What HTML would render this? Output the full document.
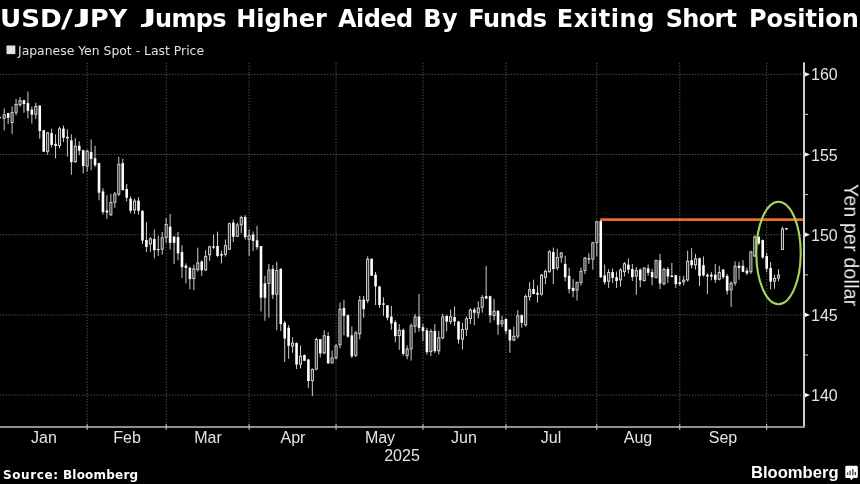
<!DOCTYPE html>
<html><head><meta charset="utf-8"><title>USD/JPY Jumps Higher Aided By Funds Exiting Short Positions</title>
<style>
html,body{margin:0;padding:0;background:#000;}
body{width:860px;height:484px;position:relative;overflow:hidden;color:#fff;font-family:"Liberation Sans",sans-serif;}
svg{position:absolute;left:0;top:0;}
body>div{will-change:transform;}
.title{position:absolute;left:0;top:0;width:860px;height:36px;overflow:hidden;font:bold 24px "DejaVu Sans","Liberation Sans",sans-serif;color:#fff;}
.title span{position:absolute;top:4.5px;line-height:28px;white-space:nowrap;transform-origin:0 4.3px;}
.legend{position:absolute;left:17.6px;top:42.8px;font:12.4px/15px "DejaVu Sans","Liberation Sans",sans-serif;color:#e0e0e0;white-space:nowrap;}
.ax{position:absolute;font:16px/18px "Liberation Sans",sans-serif;color:#e4e4e4;white-space:nowrap;}
.mo{top:428.6px;width:60px;text-align:center;}
.yl{left:810.7px;}
.yr{left:371.5px;top:446.6px;width:60px;text-align:center;}
.ytitle{position:absolute;left:840.9px;top:184px;font:19.3px/19.3px "Liberation Sans",sans-serif;color:#ececec;white-space:nowrap;letter-spacing:0.3px;transform-origin:0 0;transform:rotate(90deg) translate(0,-100%);}
.src{position:absolute;top:468px;font:bold 12px/15px "DejaVu Sans","Liberation Sans",sans-serif;color:#fff;white-space:nowrap;}
.bb{position:absolute;left:751.2px;top:462.6px;font:bold 16.6px/19px "Liberation Sans",sans-serif;color:#fff;white-space:nowrap;letter-spacing:0px;}
</style></head>
<body>
<svg width="860" height="484" viewBox="0 0 860 484">
<line x1="0" x2="803.0" y1="74.30" y2="74.30" stroke="#5e5e5e" stroke-width="1" stroke-dasharray="1.2 1.72"/>
<line x1="0" x2="803.0" y1="154.50" y2="154.50" stroke="#5e5e5e" stroke-width="1" stroke-dasharray="1.2 1.72"/>
<line x1="0" x2="803.0" y1="234.70" y2="234.70" stroke="#5e5e5e" stroke-width="1" stroke-dasharray="1.2 1.72"/>
<line x1="0" x2="803.0" y1="314.90" y2="314.90" stroke="#5e5e5e" stroke-width="1" stroke-dasharray="1.2 1.72"/>
<line x1="0" x2="803.0" y1="395.10" y2="395.10" stroke="#5e5e5e" stroke-width="1" stroke-dasharray="1.2 1.72"/>
<line x1="87.16" x2="87.16" y1="62.9" y2="426.0" stroke="#5e5e5e" stroke-width="1" stroke-dasharray="1.2 1.72"/>
<line x1="166.18" x2="166.18" y1="62.9" y2="426.0" stroke="#5e5e5e" stroke-width="1" stroke-dasharray="1.2 1.72"/>
<line x1="249.14" x2="249.14" y1="62.9" y2="426.0" stroke="#5e5e5e" stroke-width="1" stroke-dasharray="1.2 1.72"/>
<line x1="336.05" x2="336.05" y1="62.9" y2="426.0" stroke="#5e5e5e" stroke-width="1" stroke-dasharray="1.2 1.72"/>
<line x1="422.96" x2="422.96" y1="62.9" y2="426.0" stroke="#5e5e5e" stroke-width="1" stroke-dasharray="1.2 1.72"/>
<line x1="505.93" x2="505.93" y1="62.9" y2="426.0" stroke="#5e5e5e" stroke-width="1" stroke-dasharray="1.2 1.72"/>
<line x1="596.79" x2="596.79" y1="62.9" y2="426.0" stroke="#5e5e5e" stroke-width="1" stroke-dasharray="1.2 1.72"/>
<line x1="679.75" x2="679.75" y1="62.9" y2="426.0" stroke="#5e5e5e" stroke-width="1" stroke-dasharray="1.2 1.72"/>
<line x1="766.67" x2="766.67" y1="62.9" y2="426.0" stroke="#5e5e5e" stroke-width="1" stroke-dasharray="1.2 1.72"/>
<path d="M0 116.4 L1.4 117.6 L0 118.8 Z" fill="#e0e0e0"/>
<line x1="4.20" x2="4.20" y1="108.40" y2="130.40" stroke="#cdcdcd" stroke-width="1"/>
<rect x="3.15" y="114.85" width="2.1" height="3.40" fill="#262626" stroke="#d8d8d8" stroke-width="0.95"/>
<line x1="8.15" x2="8.15" y1="112.80" y2="124.10" stroke="#cdcdcd" stroke-width="1"/>
<rect x="6.85" y="113.20" width="2.6" height="4.60" fill="#fff"/>
<line x1="12.10" x2="12.10" y1="106.50" y2="134.20" stroke="#cdcdcd" stroke-width="1"/>
<rect x="11.05" y="112.65" width="2.1" height="9.80" fill="#262626" stroke="#d8d8d8" stroke-width="0.95"/>
<line x1="16.05" x2="16.05" y1="98.90" y2="115.30" stroke="#cdcdcd" stroke-width="1"/>
<rect x="15.00" y="104.45" width="2.1" height="7.90" fill="#262626" stroke="#d8d8d8" stroke-width="0.95"/>
<line x1="20.00" x2="20.00" y1="97.00" y2="106.50" stroke="#cdcdcd" stroke-width="1"/>
<rect x="18.95" y="100.65" width="2.1" height="4.10" fill="#262626" stroke="#d8d8d8" stroke-width="0.95"/>
<line x1="23.95" x2="23.95" y1="99.80" y2="112.80" stroke="#cdcdcd" stroke-width="1"/>
<rect x="22.65" y="100.20" width="2.6" height="3.80" fill="#fff"/>
<line x1="27.90" x2="27.90" y1="91.50" y2="118.50" stroke="#cdcdcd" stroke-width="1"/>
<rect x="26.60" y="103.10" width="2.6" height="7.80" fill="#fff"/>
<line x1="31.85" x2="31.85" y1="106.50" y2="123.50" stroke="#cdcdcd" stroke-width="1"/>
<rect x="30.55" y="109.60" width="2.6" height="5.10" fill="#fff"/>
<line x1="35.81" x2="35.81" y1="102.70" y2="119.10" stroke="#cdcdcd" stroke-width="1"/>
<rect x="34.76" y="106.35" width="2.1" height="7.90" fill="#262626" stroke="#d8d8d8" stroke-width="0.95"/>
<line x1="39.76" x2="39.76" y1="105.20" y2="138.80" stroke="#cdcdcd" stroke-width="1"/>
<rect x="38.46" y="105.60" width="2.6" height="25.40" fill="#fff"/>
<line x1="43.71" x2="43.71" y1="129.80" y2="151.90" stroke="#cdcdcd" stroke-width="1"/>
<rect x="42.41" y="130.30" width="2.6" height="21.40" fill="#fff"/>
<line x1="47.66" x2="47.66" y1="131.90" y2="154.60" stroke="#cdcdcd" stroke-width="1"/>
<rect x="46.61" y="132.95" width="2.1" height="18.30" fill="#262626" stroke="#d8d8d8" stroke-width="0.95"/>
<line x1="51.61" x2="51.61" y1="128.60" y2="147.60" stroke="#cdcdcd" stroke-width="1"/>
<rect x="50.31" y="133.10" width="2.6" height="11.90" fill="#fff"/>
<line x1="55.56" x2="55.56" y1="134.30" y2="158.40" stroke="#cdcdcd" stroke-width="1"/>
<rect x="54.26" y="143.80" width="2.6" height="2.20" fill="#fff"/>
<line x1="59.51" x2="59.51" y1="126.50" y2="148.20" stroke="#cdcdcd" stroke-width="1"/>
<rect x="58.46" y="128.75" width="2.1" height="16.80" fill="#262626" stroke="#d8d8d8" stroke-width="0.95"/>
<line x1="63.46" x2="63.46" y1="125.50" y2="142.00" stroke="#cdcdcd" stroke-width="1"/>
<rect x="62.16" y="128.60" width="2.6" height="9.20" fill="#fff"/>
<line x1="67.41" x2="67.41" y1="129.30" y2="156.50" stroke="#cdcdcd" stroke-width="1"/>
<rect x="66.11" y="136.80" width="2.6" height="1.60" fill="#fff"/>
<line x1="71.36" x2="71.36" y1="134.40" y2="174.80" stroke="#cdcdcd" stroke-width="1"/>
<rect x="70.06" y="140.30" width="2.6" height="21.90" fill="#fff"/>
<line x1="75.31" x2="75.31" y1="138.20" y2="162.80" stroke="#cdcdcd" stroke-width="1"/>
<rect x="74.26" y="146.15" width="2.1" height="15.60" fill="#262626" stroke="#d8d8d8" stroke-width="0.95"/>
<line x1="79.26" x2="79.26" y1="141.30" y2="155.20" stroke="#cdcdcd" stroke-width="1"/>
<rect x="77.96" y="145.70" width="2.6" height="5.00" fill="#fff"/>
<line x1="83.21" x2="83.21" y1="149.60" y2="173.50" stroke="#cdcdcd" stroke-width="1"/>
<rect x="81.91" y="150.20" width="2.6" height="15.80" fill="#fff"/>
<line x1="87.16" x2="87.16" y1="149.60" y2="171.60" stroke="#cdcdcd" stroke-width="1"/>
<rect x="86.11" y="151.25" width="2.1" height="14.90" fill="#262626" stroke="#d8d8d8" stroke-width="0.95"/>
<line x1="91.11" x2="91.11" y1="139.40" y2="170.30" stroke="#cdcdcd" stroke-width="1"/>
<rect x="89.81" y="152.10" width="2.6" height="6.80" fill="#fff"/>
<line x1="95.06" x2="95.06" y1="145.80" y2="167.10" stroke="#cdcdcd" stroke-width="1"/>
<rect x="93.76" y="158.30" width="2.6" height="6.90" fill="#fff"/>
<line x1="99.02" x2="99.02" y1="162.60" y2="200.30" stroke="#cdcdcd" stroke-width="1"/>
<rect x="97.72" y="163.10" width="2.6" height="29.60" fill="#fff"/>
<line x1="102.97" x2="102.97" y1="188.20" y2="214.60" stroke="#cdcdcd" stroke-width="1"/>
<rect x="101.67" y="191.40" width="2.6" height="20.70" fill="#fff"/>
<line x1="106.92" x2="106.92" y1="195.20" y2="219.00" stroke="#cdcdcd" stroke-width="1"/>
<rect x="105.62" y="210.50" width="2.6" height="2.00" fill="#fff"/>
<line x1="110.87" x2="110.87" y1="193.80" y2="215.90" stroke="#cdcdcd" stroke-width="1"/>
<rect x="109.82" y="202.45" width="2.1" height="12.30" fill="#262626" stroke="#d8d8d8" stroke-width="0.95"/>
<line x1="114.82" x2="114.82" y1="192.00" y2="207.80" stroke="#cdcdcd" stroke-width="1"/>
<rect x="113.77" y="194.05" width="2.1" height="8.20" fill="#262626" stroke="#d8d8d8" stroke-width="0.95"/>
<line x1="118.77" x2="118.77" y1="156.90" y2="196.00" stroke="#cdcdcd" stroke-width="1"/>
<rect x="117.72" y="164.35" width="2.1" height="29.80" fill="#262626" stroke="#d8d8d8" stroke-width="0.95"/>
<line x1="122.72" x2="122.72" y1="158.80" y2="190.30" stroke="#cdcdcd" stroke-width="1"/>
<rect x="121.42" y="163.20" width="2.6" height="27.00" fill="#fff"/>
<line x1="126.67" x2="126.67" y1="184.00" y2="201.50" stroke="#cdcdcd" stroke-width="1"/>
<rect x="125.37" y="189.00" width="2.6" height="8.80" fill="#fff"/>
<line x1="130.62" x2="130.62" y1="196.20" y2="213.40" stroke="#cdcdcd" stroke-width="1"/>
<rect x="129.32" y="198.70" width="2.6" height="12.10" fill="#fff"/>
<line x1="134.57" x2="134.57" y1="198.70" y2="214.00" stroke="#cdcdcd" stroke-width="1"/>
<rect x="133.52" y="201.05" width="2.1" height="8.80" fill="#262626" stroke="#d8d8d8" stroke-width="0.95"/>
<line x1="138.52" x2="138.52" y1="197.10" y2="214.60" stroke="#cdcdcd" stroke-width="1"/>
<rect x="137.22" y="200.60" width="2.6" height="10.20" fill="#fff"/>
<line x1="142.47" x2="142.47" y1="210.20" y2="244.00" stroke="#cdcdcd" stroke-width="1"/>
<rect x="141.17" y="210.80" width="2.6" height="29.80" fill="#fff"/>
<line x1="146.42" x2="146.42" y1="222.20" y2="252.10" stroke="#cdcdcd" stroke-width="1"/>
<rect x="145.12" y="240.00" width="2.6" height="7.00" fill="#fff"/>
<line x1="150.37" x2="150.37" y1="237.00" y2="252.10" stroke="#cdcdcd" stroke-width="1"/>
<rect x="149.32" y="238.85" width="2.1" height="5.10" fill="#262626" stroke="#d8d8d8" stroke-width="0.95"/>
<line x1="154.32" x2="154.32" y1="229.50" y2="258.40" stroke="#cdcdcd" stroke-width="1"/>
<rect x="153.02" y="239.00" width="2.6" height="11.20" fill="#fff"/>
<line x1="158.27" x2="158.27" y1="235.80" y2="255.90" stroke="#cdcdcd" stroke-width="1"/>
<rect x="156.97" y="249.00" width="2.6" height="1.20" fill="#fff"/>
<line x1="162.22" x2="162.22" y1="232.00" y2="254.60" stroke="#cdcdcd" stroke-width="1"/>
<rect x="161.17" y="237.75" width="2.1" height="11.40" fill="#262626" stroke="#d8d8d8" stroke-width="0.95"/>
<line x1="166.18" x2="166.18" y1="217.80" y2="243.00" stroke="#cdcdcd" stroke-width="1"/>
<rect x="165.13" y="224.45" width="2.1" height="12.90" fill="#262626" stroke="#d8d8d8" stroke-width="0.95"/>
<line x1="170.13" x2="170.13" y1="214.00" y2="249.60" stroke="#cdcdcd" stroke-width="1"/>
<rect x="168.83" y="226.70" width="2.6" height="16.10" fill="#fff"/>
<line x1="174.08" x2="174.08" y1="236.50" y2="264.00" stroke="#cdcdcd" stroke-width="1"/>
<rect x="172.78" y="236.50" width="2.6" height="6.30" fill="#fff"/>
<line x1="178.03" x2="178.03" y1="232.00" y2="260.30" stroke="#cdcdcd" stroke-width="1"/>
<rect x="176.73" y="237.10" width="2.6" height="16.30" fill="#fff"/>
<line x1="181.98" x2="181.98" y1="245.20" y2="278.00" stroke="#cdcdcd" stroke-width="1"/>
<rect x="180.68" y="252.10" width="2.6" height="15.00" fill="#fff"/>
<line x1="185.93" x2="185.93" y1="263.40" y2="283.40" stroke="#cdcdcd" stroke-width="1"/>
<rect x="184.63" y="265.60" width="2.6" height="2.30" fill="#fff"/>
<line x1="189.88" x2="189.88" y1="266.60" y2="289.30" stroke="#cdcdcd" stroke-width="1"/>
<rect x="188.58" y="267.90" width="2.6" height="11.20" fill="#fff"/>
<line x1="193.83" x2="193.83" y1="264.70" y2="290.20" stroke="#cdcdcd" stroke-width="1"/>
<rect x="192.78" y="268.85" width="2.1" height="9.80" fill="#262626" stroke="#d8d8d8" stroke-width="0.95"/>
<line x1="197.78" x2="197.78" y1="247.70" y2="271.60" stroke="#cdcdcd" stroke-width="1"/>
<rect x="196.73" y="262.95" width="2.1" height="6.70" fill="#262626" stroke="#d8d8d8" stroke-width="0.95"/>
<line x1="201.73" x2="201.73" y1="260.30" y2="275.90" stroke="#cdcdcd" stroke-width="1"/>
<rect x="200.43" y="261.50" width="2.6" height="8.80" fill="#fff"/>
<line x1="205.68" x2="205.68" y1="250.20" y2="271.00" stroke="#cdcdcd" stroke-width="1"/>
<rect x="204.63" y="256.35" width="2.1" height="13.50" fill="#262626" stroke="#d8d8d8" stroke-width="0.95"/>
<line x1="209.63" x2="209.63" y1="245.80" y2="260.90" stroke="#cdcdcd" stroke-width="1"/>
<rect x="208.58" y="246.85" width="2.1" height="7.90" fill="#262626" stroke="#d8d8d8" stroke-width="0.95"/>
<line x1="213.58" x2="213.58" y1="234.50" y2="248.90" stroke="#cdcdcd" stroke-width="1"/>
<rect x="212.28" y="246.40" width="2.6" height="1.30" fill="#fff"/>
<line x1="217.53" x2="217.53" y1="231.70" y2="257.20" stroke="#cdcdcd" stroke-width="1"/>
<rect x="216.23" y="245.90" width="2.6" height="10.10" fill="#fff"/>
<line x1="221.48" x2="221.48" y1="250.90" y2="263.50" stroke="#cdcdcd" stroke-width="1"/>
<rect x="220.18" y="254.00" width="2.6" height="1.60" fill="#fff"/>
<line x1="225.43" x2="225.43" y1="239.60" y2="256.60" stroke="#cdcdcd" stroke-width="1"/>
<rect x="224.38" y="245.65" width="2.1" height="8.60" fill="#262626" stroke="#d8d8d8" stroke-width="0.95"/>
<line x1="229.38" x2="229.38" y1="222.60" y2="249.70" stroke="#cdcdcd" stroke-width="1"/>
<rect x="228.33" y="223.75" width="2.1" height="25.50" fill="#262626" stroke="#d8d8d8" stroke-width="0.95"/>
<line x1="233.34" x2="233.34" y1="219.50" y2="242.10" stroke="#cdcdcd" stroke-width="1"/>
<rect x="232.04" y="222.60" width="2.6" height="14.10" fill="#fff"/>
<line x1="237.29" x2="237.29" y1="222.60" y2="237.10" stroke="#cdcdcd" stroke-width="1"/>
<rect x="236.24" y="224.95" width="2.1" height="11.30" fill="#262626" stroke="#d8d8d8" stroke-width="0.95"/>
<line x1="241.24" x2="241.24" y1="215.70" y2="233.30" stroke="#cdcdcd" stroke-width="1"/>
<rect x="240.19" y="217.45" width="2.1" height="7.30" fill="#262626" stroke="#d8d8d8" stroke-width="0.95"/>
<line x1="245.19" x2="245.19" y1="215.10" y2="239.70" stroke="#cdcdcd" stroke-width="1"/>
<rect x="243.89" y="217.00" width="2.6" height="20.10" fill="#fff"/>
<line x1="249.14" x2="249.14" y1="229.60" y2="256.00" stroke="#cdcdcd" stroke-width="1"/>
<rect x="248.09" y="235.65" width="2.1" height="3.60" fill="#262626" stroke="#d8d8d8" stroke-width="0.95"/>
<line x1="253.09" x2="253.09" y1="231.50" y2="251.00" stroke="#cdcdcd" stroke-width="1"/>
<rect x="251.79" y="234.60" width="2.6" height="6.30" fill="#fff"/>
<line x1="257.04" x2="257.04" y1="225.80" y2="249.70" stroke="#cdcdcd" stroke-width="1"/>
<rect x="255.74" y="240.30" width="2.6" height="6.90" fill="#fff"/>
<line x1="260.99" x2="260.99" y1="246.00" y2="311.50" stroke="#cdcdcd" stroke-width="1"/>
<rect x="259.69" y="246.00" width="2.6" height="51.70" fill="#fff"/>
<line x1="264.94" x2="264.94" y1="275.80" y2="320.80" stroke="#cdcdcd" stroke-width="1"/>
<rect x="263.64" y="283.40" width="2.6" height="14.40" fill="#fff"/>
<line x1="268.89" x2="268.89" y1="263.80" y2="317.70" stroke="#cdcdcd" stroke-width="1"/>
<rect x="267.84" y="269.95" width="2.1" height="13.60" fill="#262626" stroke="#d8d8d8" stroke-width="0.95"/>
<line x1="272.84" x2="272.84" y1="265.10" y2="299.00" stroke="#cdcdcd" stroke-width="1"/>
<rect x="271.54" y="268.90" width="2.6" height="25.80" fill="#fff"/>
<line x1="276.79" x2="276.79" y1="261.80" y2="330.30" stroke="#cdcdcd" stroke-width="1"/>
<rect x="275.74" y="270.55" width="2.1" height="23.70" fill="#262626" stroke="#d8d8d8" stroke-width="0.95"/>
<line x1="280.74" x2="280.74" y1="268.20" y2="330.90" stroke="#cdcdcd" stroke-width="1"/>
<rect x="279.44" y="268.90" width="2.6" height="55.10" fill="#fff"/>
<line x1="284.69" x2="284.69" y1="320.80" y2="362.00" stroke="#cdcdcd" stroke-width="1"/>
<rect x="283.39" y="322.70" width="2.6" height="15.80" fill="#fff"/>
<line x1="288.64" x2="288.64" y1="325.20" y2="358.90" stroke="#cdcdcd" stroke-width="1"/>
<rect x="287.34" y="327.80" width="2.6" height="18.00" fill="#fff"/>
<line x1="292.59" x2="292.59" y1="337.20" y2="352.80" stroke="#cdcdcd" stroke-width="1"/>
<rect x="291.54" y="343.15" width="2.1" height="2.90" fill="#262626" stroke="#d8d8d8" stroke-width="0.95"/>
<line x1="296.55" x2="296.55" y1="342.30" y2="369.00" stroke="#cdcdcd" stroke-width="1"/>
<rect x="295.25" y="343.00" width="2.6" height="21.60" fill="#fff"/>
<line x1="300.50" x2="300.50" y1="345.50" y2="368.40" stroke="#cdcdcd" stroke-width="1"/>
<rect x="299.45" y="356.20" width="2.1" height="7.95" fill="#262626" stroke="#d8d8d8" stroke-width="0.95"/>
<line x1="304.45" x2="304.45" y1="354.50" y2="361.00" stroke="#cdcdcd" stroke-width="1"/>
<rect x="303.15" y="355.10" width="2.6" height="5.70" fill="#fff"/>
<line x1="308.40" x2="308.40" y1="358.90" y2="387.90" stroke="#cdcdcd" stroke-width="1"/>
<rect x="307.10" y="359.50" width="2.6" height="21.50" fill="#fff"/>
<line x1="312.35" x2="312.35" y1="368.40" y2="396.10" stroke="#cdcdcd" stroke-width="1"/>
<rect x="311.30" y="369.45" width="2.1" height="11.10" fill="#262626" stroke="#d8d8d8" stroke-width="0.95"/>
<line x1="316.30" x2="316.30" y1="337.80" y2="370.20" stroke="#cdcdcd" stroke-width="1"/>
<rect x="315.25" y="339.55" width="2.1" height="29.60" fill="#262626" stroke="#d8d8d8" stroke-width="0.95"/>
<line x1="320.25" x2="320.25" y1="339.00" y2="357.60" stroke="#cdcdcd" stroke-width="1"/>
<rect x="318.95" y="339.10" width="2.6" height="14.30" fill="#fff"/>
<line x1="324.20" x2="324.20" y1="330.30" y2="354.20" stroke="#cdcdcd" stroke-width="1"/>
<rect x="323.15" y="335.75" width="2.1" height="17.20" fill="#262626" stroke="#d8d8d8" stroke-width="0.95"/>
<line x1="328.15" x2="328.15" y1="332.20" y2="364.00" stroke="#cdcdcd" stroke-width="1"/>
<rect x="326.85" y="336.00" width="2.6" height="27.30" fill="#fff"/>
<line x1="332.10" x2="332.10" y1="350.60" y2="363.50" stroke="#cdcdcd" stroke-width="1"/>
<rect x="331.05" y="358.05" width="2.1" height="4.80" fill="#262626" stroke="#d8d8d8" stroke-width="0.95"/>
<line x1="336.05" x2="336.05" y1="343.90" y2="359.50" stroke="#cdcdcd" stroke-width="1"/>
<rect x="335.00" y="345.95" width="2.1" height="11.90" fill="#262626" stroke="#d8d8d8" stroke-width="0.95"/>
<line x1="340.00" x2="340.00" y1="302.50" y2="348.40" stroke="#cdcdcd" stroke-width="1"/>
<rect x="338.95" y="309.25" width="2.1" height="35.50" fill="#262626" stroke="#d8d8d8" stroke-width="0.95"/>
<line x1="343.95" x2="343.95" y1="299.90" y2="335.30" stroke="#cdcdcd" stroke-width="1"/>
<rect x="342.65" y="308.00" width="2.6" height="7.80" fill="#fff"/>
<line x1="347.90" x2="347.90" y1="314.50" y2="337.80" stroke="#cdcdcd" stroke-width="1"/>
<rect x="346.60" y="315.20" width="2.6" height="21.45" fill="#fff"/>
<line x1="351.85" x2="351.85" y1="326.50" y2="358.00" stroke="#cdcdcd" stroke-width="1"/>
<rect x="350.55" y="335.35" width="2.6" height="20.95" fill="#fff"/>
<line x1="355.80" x2="355.80" y1="330.95" y2="356.90" stroke="#cdcdcd" stroke-width="1"/>
<rect x="354.75" y="332.95" width="2.1" height="22.30" fill="#262626" stroke="#d8d8d8" stroke-width="0.95"/>
<line x1="359.75" x2="359.75" y1="295.80" y2="339.20" stroke="#cdcdcd" stroke-width="1"/>
<rect x="358.70" y="300.45" width="2.1" height="33.25" fill="#262626" stroke="#d8d8d8" stroke-width="0.95"/>
<line x1="363.71" x2="363.71" y1="296.00" y2="317.80" stroke="#cdcdcd" stroke-width="1"/>
<rect x="362.41" y="299.60" width="2.6" height="9.50" fill="#fff"/>
<line x1="367.66" x2="367.66" y1="256.30" y2="303.10" stroke="#cdcdcd" stroke-width="1"/>
<rect x="366.61" y="259.25" width="2.1" height="41.20" fill="#262626" stroke="#d8d8d8" stroke-width="0.95"/>
<line x1="371.61" x2="371.61" y1="258.50" y2="276.00" stroke="#cdcdcd" stroke-width="1"/>
<rect x="370.31" y="258.80" width="2.6" height="17.00" fill="#fff"/>
<line x1="375.56" x2="375.56" y1="272.00" y2="305.00" stroke="#cdcdcd" stroke-width="1"/>
<rect x="374.26" y="274.60" width="2.6" height="11.90" fill="#fff"/>
<line x1="379.51" x2="379.51" y1="285.90" y2="307.85" stroke="#cdcdcd" stroke-width="1"/>
<rect x="378.21" y="286.50" width="2.6" height="18.50" fill="#fff"/>
<line x1="383.46" x2="383.46" y1="297.30" y2="315.90" stroke="#cdcdcd" stroke-width="1"/>
<rect x="382.16" y="303.40" width="2.6" height="1.30" fill="#fff"/>
<line x1="387.41" x2="387.41" y1="305.00" y2="320.30" stroke="#cdcdcd" stroke-width="1"/>
<rect x="386.11" y="305.35" width="2.6" height="12.45" fill="#fff"/>
<line x1="391.36" x2="391.36" y1="305.90" y2="329.80" stroke="#cdcdcd" stroke-width="1"/>
<rect x="390.06" y="316.50" width="2.6" height="7.00" fill="#fff"/>
<line x1="395.31" x2="395.31" y1="320.30" y2="342.40" stroke="#cdcdcd" stroke-width="1"/>
<rect x="394.01" y="322.20" width="2.6" height="13.90" fill="#fff"/>
<line x1="399.26" x2="399.26" y1="324.10" y2="349.90" stroke="#cdcdcd" stroke-width="1"/>
<rect x="398.21" y="330.25" width="2.1" height="5.40" fill="#262626" stroke="#d8d8d8" stroke-width="0.95"/>
<line x1="403.21" x2="403.21" y1="328.50" y2="355.70" stroke="#cdcdcd" stroke-width="1"/>
<rect x="401.91" y="329.80" width="2.6" height="24.10" fill="#fff"/>
<line x1="407.16" x2="407.16" y1="345.50" y2="359.30" stroke="#cdcdcd" stroke-width="1"/>
<rect x="406.11" y="349.15" width="2.1" height="6.50" fill="#262626" stroke="#d8d8d8" stroke-width="0.95"/>
<line x1="411.11" x2="411.11" y1="323.50" y2="360.60" stroke="#cdcdcd" stroke-width="1"/>
<rect x="410.06" y="325.85" width="2.1" height="23.10" fill="#262626" stroke="#d8d8d8" stroke-width="0.95"/>
<line x1="415.06" x2="415.06" y1="314.00" y2="332.90" stroke="#cdcdcd" stroke-width="1"/>
<rect x="414.01" y="316.95" width="2.1" height="9.20" fill="#262626" stroke="#d8d8d8" stroke-width="0.95"/>
<line x1="419.01" x2="419.01" y1="294.10" y2="331.70" stroke="#cdcdcd" stroke-width="1"/>
<rect x="417.71" y="316.50" width="2.6" height="11.40" fill="#fff"/>
<line x1="422.96" x2="422.96" y1="324.00" y2="341.00" stroke="#cdcdcd" stroke-width="1"/>
<rect x="421.66" y="327.20" width="2.6" height="3.80" fill="#fff"/>
<line x1="426.91" x2="426.91" y1="327.90" y2="354.70" stroke="#cdcdcd" stroke-width="1"/>
<rect x="425.61" y="330.40" width="2.6" height="21.80" fill="#fff"/>
<line x1="430.87" x2="430.87" y1="329.10" y2="356.10" stroke="#cdcdcd" stroke-width="1"/>
<rect x="429.82" y="331.45" width="2.1" height="20.00" fill="#262626" stroke="#d8d8d8" stroke-width="0.95"/>
<line x1="434.82" x2="434.82" y1="324.10" y2="353.00" stroke="#cdcdcd" stroke-width="1"/>
<rect x="433.52" y="331.00" width="2.6" height="20.20" fill="#fff"/>
<line x1="438.77" x2="438.77" y1="331.00" y2="354.40" stroke="#cdcdcd" stroke-width="1"/>
<rect x="437.72" y="337.75" width="2.1" height="13.00" fill="#262626" stroke="#d8d8d8" stroke-width="0.95"/>
<line x1="442.72" x2="442.72" y1="313.70" y2="339.20" stroke="#cdcdcd" stroke-width="1"/>
<rect x="441.67" y="316.95" width="2.1" height="21.00" fill="#262626" stroke="#d8d8d8" stroke-width="0.95"/>
<line x1="446.67" x2="446.67" y1="315.25" y2="331.35" stroke="#cdcdcd" stroke-width="1"/>
<rect x="445.37" y="315.90" width="2.6" height="5.65" fill="#fff"/>
<line x1="450.62" x2="450.62" y1="309.60" y2="324.10" stroke="#cdcdcd" stroke-width="1"/>
<rect x="449.57" y="316.65" width="2.1" height="4.80" fill="#262626" stroke="#d8d8d8" stroke-width="0.95"/>
<line x1="454.57" x2="454.57" y1="306.40" y2="326.00" stroke="#cdcdcd" stroke-width="1"/>
<rect x="453.27" y="317.10" width="2.6" height="4.40" fill="#fff"/>
<line x1="458.52" x2="458.52" y1="320.90" y2="343.70" stroke="#cdcdcd" stroke-width="1"/>
<rect x="457.22" y="321.50" width="2.6" height="18.10" fill="#fff"/>
<line x1="462.47" x2="462.47" y1="322.80" y2="349.50" stroke="#cdcdcd" stroke-width="1"/>
<rect x="461.42" y="329.55" width="2.1" height="9.60" fill="#262626" stroke="#d8d8d8" stroke-width="0.95"/>
<line x1="466.42" x2="466.42" y1="316.50" y2="336.00" stroke="#cdcdcd" stroke-width="1"/>
<rect x="465.37" y="318.85" width="2.1" height="10.40" fill="#262626" stroke="#d8d8d8" stroke-width="0.95"/>
<line x1="470.37" x2="470.37" y1="308.30" y2="324.10" stroke="#cdcdcd" stroke-width="1"/>
<rect x="469.32" y="310.05" width="2.1" height="8.50" fill="#262626" stroke="#d8d8d8" stroke-width="0.95"/>
<line x1="474.32" x2="474.32" y1="307.70" y2="325.30" stroke="#cdcdcd" stroke-width="1"/>
<rect x="473.02" y="309.60" width="2.6" height="3.10" fill="#fff"/>
<line x1="478.27" x2="478.27" y1="301.40" y2="318.40" stroke="#cdcdcd" stroke-width="1"/>
<rect x="477.22" y="308.15" width="2.1" height="4.80" fill="#262626" stroke="#d8d8d8" stroke-width="0.95"/>
<line x1="482.22" x2="482.22" y1="295.00" y2="312.70" stroke="#cdcdcd" stroke-width="1"/>
<rect x="481.17" y="297.35" width="2.1" height="9.90" fill="#262626" stroke="#d8d8d8" stroke-width="0.95"/>
<line x1="486.17" x2="486.17" y1="265.80" y2="298.80" stroke="#cdcdcd" stroke-width="1"/>
<rect x="484.87" y="296.10" width="2.6" height="2.50" fill="#fff"/>
<line x1="490.12" x2="490.12" y1="295.70" y2="322.80" stroke="#cdcdcd" stroke-width="1"/>
<rect x="488.82" y="296.20" width="2.6" height="19.05" fill="#fff"/>
<line x1="494.07" x2="494.07" y1="298.80" y2="320.30" stroke="#cdcdcd" stroke-width="1"/>
<rect x="493.02" y="311.25" width="2.1" height="4.20" fill="#262626" stroke="#d8d8d8" stroke-width="0.95"/>
<line x1="498.03" x2="498.03" y1="310.20" y2="334.80" stroke="#cdcdcd" stroke-width="1"/>
<rect x="496.73" y="310.80" width="2.6" height="13.90" fill="#fff"/>
<line x1="501.98" x2="501.98" y1="315.90" y2="327.20" stroke="#cdcdcd" stroke-width="1"/>
<rect x="500.93" y="320.75" width="2.1" height="2.90" fill="#262626" stroke="#d8d8d8" stroke-width="0.95"/>
<line x1="505.93" x2="505.93" y1="318.40" y2="334.10" stroke="#cdcdcd" stroke-width="1"/>
<rect x="504.63" y="319.00" width="2.6" height="12.00" fill="#fff"/>
<line x1="509.88" x2="509.88" y1="329.10" y2="352.80" stroke="#cdcdcd" stroke-width="1"/>
<rect x="508.58" y="329.70" width="2.6" height="10.80" fill="#fff"/>
<line x1="513.83" x2="513.83" y1="326.60" y2="341.10" stroke="#cdcdcd" stroke-width="1"/>
<rect x="512.78" y="336.25" width="2.1" height="3.80" fill="#262626" stroke="#d8d8d8" stroke-width="0.95"/>
<line x1="517.78" x2="517.78" y1="310.20" y2="338.60" stroke="#cdcdcd" stroke-width="1"/>
<rect x="516.73" y="315.70" width="2.1" height="20.45" fill="#262626" stroke="#d8d8d8" stroke-width="0.95"/>
<line x1="521.73" x2="521.73" y1="314.60" y2="327.80" stroke="#cdcdcd" stroke-width="1"/>
<rect x="520.43" y="315.25" width="2.6" height="7.55" fill="#fff"/>
<line x1="525.68" x2="525.68" y1="294.45" y2="326.60" stroke="#cdcdcd" stroke-width="1"/>
<rect x="524.63" y="296.45" width="2.1" height="28.40" fill="#262626" stroke="#d8d8d8" stroke-width="0.95"/>
<line x1="529.63" x2="529.63" y1="282.20" y2="300.75" stroke="#cdcdcd" stroke-width="1"/>
<rect x="528.58" y="289.75" width="2.1" height="6.95" fill="#262626" stroke="#d8d8d8" stroke-width="0.95"/>
<line x1="533.58" x2="533.58" y1="279.70" y2="294.20" stroke="#cdcdcd" stroke-width="1"/>
<rect x="532.28" y="289.00" width="2.6" height="5.00" fill="#fff"/>
<line x1="537.53" x2="537.53" y1="285.50" y2="302.60" stroke="#cdcdcd" stroke-width="1"/>
<rect x="536.23" y="292.75" width="2.6" height="1.85" fill="#fff"/>
<line x1="541.48" x2="541.48" y1="274.00" y2="295.60" stroke="#cdcdcd" stroke-width="1"/>
<rect x="540.43" y="275.15" width="2.1" height="19.00" fill="#262626" stroke="#d8d8d8" stroke-width="0.95"/>
<line x1="545.43" x2="545.43" y1="269.60" y2="284.10" stroke="#cdcdcd" stroke-width="1"/>
<rect x="544.38" y="271.35" width="2.1" height="6.00" fill="#262626" stroke="#d8d8d8" stroke-width="0.95"/>
<line x1="549.38" x2="549.38" y1="250.10" y2="272.80" stroke="#cdcdcd" stroke-width="1"/>
<rect x="548.33" y="251.75" width="2.1" height="19.90" fill="#262626" stroke="#d8d8d8" stroke-width="0.95"/>
<line x1="553.33" x2="553.33" y1="247.60" y2="284.10" stroke="#cdcdcd" stroke-width="1"/>
<rect x="552.03" y="252.00" width="2.6" height="17.00" fill="#fff"/>
<line x1="557.28" x2="557.28" y1="248.80" y2="270.20" stroke="#cdcdcd" stroke-width="1"/>
<rect x="556.23" y="257.45" width="2.1" height="10.50" fill="#262626" stroke="#d8d8d8" stroke-width="0.95"/>
<line x1="561.24" x2="561.24" y1="252.00" y2="262.70" stroke="#cdcdcd" stroke-width="1"/>
<rect x="560.19" y="253.05" width="2.1" height="4.10" fill="#262626" stroke="#d8d8d8" stroke-width="0.95"/>
<line x1="565.19" x2="565.19" y1="255.75" y2="281.30" stroke="#cdcdcd" stroke-width="1"/>
<rect x="563.89" y="263.90" width="2.6" height="13.30" fill="#fff"/>
<line x1="569.14" x2="569.14" y1="267.70" y2="293.60" stroke="#cdcdcd" stroke-width="1"/>
<rect x="567.84" y="275.90" width="2.6" height="13.25" fill="#fff"/>
<line x1="573.09" x2="573.09" y1="279.10" y2="297.30" stroke="#cdcdcd" stroke-width="1"/>
<rect x="571.79" y="287.90" width="2.6" height="3.10" fill="#fff"/>
<line x1="577.04" x2="577.04" y1="281.60" y2="300.50" stroke="#cdcdcd" stroke-width="1"/>
<rect x="575.99" y="282.65" width="2.1" height="7.30" fill="#262626" stroke="#d8d8d8" stroke-width="0.95"/>
<line x1="580.99" x2="580.99" y1="267.70" y2="285.40" stroke="#cdcdcd" stroke-width="1"/>
<rect x="579.94" y="271.35" width="2.1" height="11.05" fill="#262626" stroke="#d8d8d8" stroke-width="0.95"/>
<line x1="584.94" x2="584.94" y1="257.00" y2="274.00" stroke="#cdcdcd" stroke-width="1"/>
<rect x="583.89" y="258.05" width="2.1" height="12.40" fill="#262626" stroke="#d8d8d8" stroke-width="0.95"/>
<line x1="588.89" x2="588.89" y1="253.20" y2="263.90" stroke="#cdcdcd" stroke-width="1"/>
<rect x="587.59" y="258.30" width="2.6" height="1.20" fill="#fff"/>
<line x1="592.84" x2="592.84" y1="241.90" y2="269.60" stroke="#cdcdcd" stroke-width="1"/>
<rect x="591.79" y="242.85" width="2.1" height="16.20" fill="#262626" stroke="#d8d8d8" stroke-width="0.95"/>
<line x1="596.79" x2="596.79" y1="220.80" y2="256.40" stroke="#cdcdcd" stroke-width="1"/>
<rect x="595.74" y="221.85" width="2.1" height="20.55" fill="#262626" stroke="#d8d8d8" stroke-width="0.95"/>
<line x1="600.74" x2="600.74" y1="219.50" y2="278.00" stroke="#cdcdcd" stroke-width="1"/>
<rect x="599.44" y="220.80" width="2.6" height="56.40" fill="#fff"/>
<line x1="604.69" x2="604.69" y1="264.60" y2="284.70" stroke="#cdcdcd" stroke-width="1"/>
<rect x="603.39" y="275.30" width="2.6" height="6.90" fill="#fff"/>
<line x1="608.64" x2="608.64" y1="269.00" y2="287.90" stroke="#cdcdcd" stroke-width="1"/>
<rect x="607.59" y="272.55" width="2.1" height="8.60" fill="#262626" stroke="#d8d8d8" stroke-width="0.95"/>
<line x1="612.59" x2="612.59" y1="268.40" y2="282.85" stroke="#cdcdcd" stroke-width="1"/>
<rect x="611.29" y="272.10" width="2.6" height="5.70" fill="#fff"/>
<line x1="616.54" x2="616.54" y1="271.50" y2="287.90" stroke="#cdcdcd" stroke-width="1"/>
<rect x="615.24" y="277.20" width="2.6" height="3.80" fill="#fff"/>
<line x1="620.49" x2="620.49" y1="268.40" y2="286.60" stroke="#cdcdcd" stroke-width="1"/>
<rect x="619.44" y="270.05" width="2.1" height="9.80" fill="#262626" stroke="#d8d8d8" stroke-width="0.95"/>
<line x1="624.44" x2="624.44" y1="262.00" y2="276.50" stroke="#cdcdcd" stroke-width="1"/>
<rect x="623.39" y="263.75" width="2.1" height="7.90" fill="#262626" stroke="#d8d8d8" stroke-width="0.95"/>
<line x1="628.40" x2="628.40" y1="258.30" y2="273.40" stroke="#cdcdcd" stroke-width="1"/>
<rect x="627.10" y="264.60" width="2.6" height="5.00" fill="#fff"/>
<line x1="632.35" x2="632.35" y1="263.90" y2="281.00" stroke="#cdcdcd" stroke-width="1"/>
<rect x="631.05" y="269.00" width="2.6" height="8.20" fill="#fff"/>
<line x1="636.30" x2="636.30" y1="267.10" y2="294.80" stroke="#cdcdcd" stroke-width="1"/>
<rect x="635.25" y="270.65" width="2.1" height="5.40" fill="#262626" stroke="#d8d8d8" stroke-width="0.95"/>
<line x1="640.25" x2="640.25" y1="268.40" y2="287.30" stroke="#cdcdcd" stroke-width="1"/>
<rect x="638.95" y="269.60" width="2.6" height="10.70" fill="#fff"/>
<line x1="644.20" x2="644.20" y1="267.10" y2="281.60" stroke="#cdcdcd" stroke-width="1"/>
<rect x="643.15" y="268.15" width="2.1" height="12.40" fill="#262626" stroke="#d8d8d8" stroke-width="0.95"/>
<line x1="648.15" x2="648.15" y1="264.60" y2="275.90" stroke="#cdcdcd" stroke-width="1"/>
<rect x="646.85" y="268.40" width="2.6" height="4.40" fill="#fff"/>
<line x1="652.10" x2="652.10" y1="269.00" y2="285.40" stroke="#cdcdcd" stroke-width="1"/>
<rect x="650.80" y="272.10" width="2.6" height="5.10" fill="#fff"/>
<line x1="656.05" x2="656.05" y1="259.50" y2="278.40" stroke="#cdcdcd" stroke-width="1"/>
<rect x="655.00" y="260.65" width="2.1" height="16.70" fill="#262626" stroke="#d8d8d8" stroke-width="0.95"/>
<line x1="660.00" x2="660.00" y1="253.90" y2="289.15" stroke="#cdcdcd" stroke-width="1"/>
<rect x="658.70" y="260.20" width="2.6" height="23.30" fill="#fff"/>
<line x1="663.95" x2="663.95" y1="267.70" y2="285.40" stroke="#cdcdcd" stroke-width="1"/>
<rect x="662.90" y="269.45" width="2.1" height="14.20" fill="#262626" stroke="#d8d8d8" stroke-width="0.95"/>
<line x1="667.90" x2="667.90" y1="267.10" y2="282.85" stroke="#cdcdcd" stroke-width="1"/>
<rect x="666.60" y="269.00" width="2.6" height="7.50" fill="#fff"/>
<line x1="671.85" x2="671.85" y1="263.00" y2="277.20" stroke="#cdcdcd" stroke-width="1"/>
<rect x="670.55" y="275.60" width="2.6" height="1.40" fill="#fff"/>
<line x1="675.80" x2="675.80" y1="274.70" y2="287.90" stroke="#cdcdcd" stroke-width="1"/>
<rect x="674.50" y="275.30" width="2.6" height="8.80" fill="#fff"/>
<line x1="679.75" x2="679.75" y1="275.90" y2="286.00" stroke="#cdcdcd" stroke-width="1"/>
<rect x="678.45" y="282.20" width="2.6" height="1.90" fill="#fff"/>
<line x1="683.70" x2="683.70" y1="275.90" y2="285.40" stroke="#cdcdcd" stroke-width="1"/>
<rect x="682.65" y="280.15" width="2.1" height="1.60" fill="#262626" stroke="#d8d8d8" stroke-width="0.95"/>
<line x1="687.65" x2="687.65" y1="250.70" y2="281.60" stroke="#cdcdcd" stroke-width="1"/>
<rect x="686.60" y="261.25" width="2.1" height="18.60" fill="#262626" stroke="#d8d8d8" stroke-width="0.95"/>
<line x1="691.61" x2="691.61" y1="248.20" y2="268.40" stroke="#cdcdcd" stroke-width="1"/>
<rect x="690.31" y="260.20" width="2.6" height="5.00" fill="#fff"/>
<line x1="695.56" x2="695.56" y1="253.90" y2="269.60" stroke="#cdcdcd" stroke-width="1"/>
<rect x="694.51" y="258.75" width="2.1" height="6.00" fill="#262626" stroke="#d8d8d8" stroke-width="0.95"/>
<line x1="699.51" x2="699.51" y1="257.60" y2="286.00" stroke="#cdcdcd" stroke-width="1"/>
<rect x="698.21" y="258.30" width="2.6" height="17.60" fill="#fff"/>
<line x1="703.46" x2="703.46" y1="256.40" y2="276.50" stroke="#cdcdcd" stroke-width="1"/>
<rect x="702.16" y="265.20" width="2.6" height="10.10" fill="#fff"/>
<line x1="707.41" x2="707.41" y1="273.40" y2="294.20" stroke="#cdcdcd" stroke-width="1"/>
<rect x="706.11" y="274.70" width="2.6" height="1.80" fill="#fff"/>
<line x1="711.36" x2="711.36" y1="272.10" y2="280.30" stroke="#cdcdcd" stroke-width="1"/>
<rect x="710.06" y="274.70" width="2.6" height="1.80" fill="#fff"/>
<line x1="715.31" x2="715.31" y1="263.90" y2="282.85" stroke="#cdcdcd" stroke-width="1"/>
<rect x="714.01" y="274.70" width="2.6" height="5.00" fill="#fff"/>
<line x1="719.26" x2="719.26" y1="265.80" y2="280.30" stroke="#cdcdcd" stroke-width="1"/>
<rect x="718.21" y="272.55" width="2.1" height="6.70" fill="#262626" stroke="#d8d8d8" stroke-width="0.95"/>
<line x1="723.21" x2="723.21" y1="269.00" y2="279.10" stroke="#cdcdcd" stroke-width="1"/>
<rect x="721.91" y="269.60" width="2.6" height="7.60" fill="#fff"/>
<line x1="727.16" x2="727.16" y1="274.00" y2="294.60" stroke="#cdcdcd" stroke-width="1"/>
<rect x="725.86" y="275.90" width="2.6" height="14.90" fill="#fff"/>
<line x1="731.11" x2="731.11" y1="281.60" y2="307.00" stroke="#cdcdcd" stroke-width="1"/>
<rect x="730.06" y="283.30" width="2.1" height="6.55" fill="#262626" stroke="#d8d8d8" stroke-width="0.95"/>
<line x1="735.06" x2="735.06" y1="261.40" y2="285.80" stroke="#cdcdcd" stroke-width="1"/>
<rect x="734.01" y="266.25" width="2.1" height="16.60" fill="#262626" stroke="#d8d8d8" stroke-width="0.95"/>
<line x1="739.01" x2="739.01" y1="261.80" y2="279.60" stroke="#cdcdcd" stroke-width="1"/>
<rect x="737.71" y="265.80" width="2.6" height="2.20" fill="#fff"/>
<line x1="742.96" x2="742.96" y1="260.00" y2="272.20" stroke="#cdcdcd" stroke-width="1"/>
<rect x="741.66" y="265.80" width="2.6" height="6.00" fill="#fff"/>
<line x1="746.91" x2="746.91" y1="267.70" y2="275.20" stroke="#cdcdcd" stroke-width="1"/>
<rect x="745.61" y="270.60" width="2.6" height="2.70" fill="#fff"/>
<line x1="750.86" x2="750.86" y1="250.70" y2="274.00" stroke="#cdcdcd" stroke-width="1"/>
<rect x="749.81" y="251.95" width="2.1" height="19.80" fill="#262626" stroke="#d8d8d8" stroke-width="0.95"/>
<line x1="754.81" x2="754.81" y1="235.50" y2="257.00" stroke="#cdcdcd" stroke-width="1"/>
<rect x="753.76" y="236.85" width="2.1" height="19.10" fill="#262626" stroke="#d8d8d8" stroke-width="0.95"/>
<line x1="758.77" x2="758.77" y1="236.00" y2="245.00" stroke="#cdcdcd" stroke-width="1"/>
<rect x="757.47" y="236.90" width="2.6" height="6.50" fill="#fff"/>
<line x1="762.72" x2="762.72" y1="239.50" y2="258.80" stroke="#cdcdcd" stroke-width="1"/>
<rect x="761.42" y="240.10" width="2.6" height="17.30" fill="#fff"/>
<line x1="766.67" x2="766.67" y1="253.00" y2="272.20" stroke="#cdcdcd" stroke-width="1"/>
<rect x="765.37" y="256.10" width="2.6" height="12.60" fill="#fff"/>
<line x1="770.62" x2="770.62" y1="262.00" y2="289.40" stroke="#cdcdcd" stroke-width="1"/>
<rect x="769.32" y="268.00" width="2.6" height="13.60" fill="#fff"/>
<line x1="774.57" x2="774.57" y1="274.65" y2="288.60" stroke="#cdcdcd" stroke-width="1"/>
<rect x="773.52" y="278.35" width="2.1" height="2.80" fill="#262626" stroke="#d8d8d8" stroke-width="0.95"/>
<line x1="778.52" x2="778.52" y1="269.10" y2="281.20" stroke="#cdcdcd" stroke-width="1"/>
<rect x="777.47" y="275.10" width="2.1" height="2.85" fill="#262626" stroke="#d8d8d8" stroke-width="0.95"/>
<line x1="782.47" x2="782.47" y1="226.60" y2="250.00" stroke="#cdcdcd" stroke-width="1"/>
<rect x="781.42" y="228.95" width="2.1" height="20.50" fill="#262626" stroke="#d8d8d8" stroke-width="0.95"/>
<path d="M784.72 228 L788.12 228 L786.42 230.4 Z" fill="#e8e8e8"/>
<line x1="600.3" x2="803.5" y1="219.65" y2="219.65" stroke="#ea6c2c" stroke-width="2.9"/>
<ellipse cx="778.5" cy="252.95" rx="22.2" ry="51.25" fill="none" stroke="#a5d65a" stroke-width="2.1"/>
<rect x="803.00" y="62.4" width="2" height="365.60" fill="#d0d0d0"/>
<rect x="0" y="426.00" width="805.00" height="2" fill="#8f8f8f"/>
<path d="M805.0 72.20 L810.0 74.30 L805.0 76.40 Z" fill="#fff"/>
<path d="M805.0 152.40 L810.0 154.50 L805.0 156.60 Z" fill="#fff"/>
<path d="M805.0 232.60 L810.0 234.70 L805.0 236.80 Z" fill="#fff"/>
<path d="M805.0 312.80 L810.0 314.90 L805.0 317.00 Z" fill="#fff"/>
<path d="M805.0 393.00 L810.0 395.10 L805.0 397.20 Z" fill="#fff"/>
<rect x="805.0" y="113.90" width="3" height="1" fill="#cfcfcf"/>
<rect x="805.0" y="194.10" width="3" height="1" fill="#cfcfcf"/>
<rect x="805.0" y="274.30" width="3" height="1" fill="#cfcfcf"/>
<rect x="805.0" y="354.50" width="3" height="1" fill="#cfcfcf"/>
<rect x="86.66" y="424.00" width="1" height="6" fill="#c8c8c8"/>
<rect x="165.68" y="424.00" width="1" height="6" fill="#c8c8c8"/>
<rect x="248.64" y="424.00" width="1" height="6" fill="#c8c8c8"/>
<rect x="335.55" y="424.00" width="1" height="6" fill="#c8c8c8"/>
<rect x="422.46" y="424.00" width="1" height="6" fill="#c8c8c8"/>
<rect x="505.43" y="424.00" width="1" height="6" fill="#c8c8c8"/>
<rect x="596.29" y="424.00" width="1" height="6" fill="#c8c8c8"/>
<rect x="679.25" y="424.00" width="1" height="6" fill="#c8c8c8"/>
<rect x="766.17" y="424.00" width="1" height="6" fill="#c8c8c8"/>
<rect x="6.5" y="45.5" width="8.8" height="8.6" fill="#e3e3e3"/>
<path d="M846.6 465.7 h9.9 a1.3 1.3 0 0 1 1.3 1.3 v9.8 a1.3 1.3 0 0 1 -1.3 1.3 h-3.4 l-1.6 2.1 l-1.6 -2.1 h-3.3 a1.3 1.3 0 0 1 -1.3 -1.3 v-9.8 a1.3 1.3 0 0 1 1.3 -1.3 z" fill="#fff"/>
<rect x="847.15" y="472.4" width="1.1" height="2.60" fill="#222"/>
<rect x="849.55" y="470.6" width="1.1" height="4.70" fill="#222"/>
<rect x="852.35" y="468.9" width="1.1" height="6.40" fill="#222"/>
<rect x="854.75" y="471.9" width="1.1" height="3.20" fill="#222"/>
</svg>
<div class="title"><span style="left:0.1px;transform:scaleX(1.09)">USD</span><span style="left:61.1px;transform:scaleX(1.35)">/</span><span style="left:77.4px;transform:scale(1.6,0.79)">J</span><span style="left:89.7px;transform:scaleX(1.06)">PY</span> <span style="left:142.7px;transform:scale(1.53,0.79)">J</span><span style="left:155.0px;letter-spacing:-0.7px">umps</span> <span style="left:236.2px">Higher</span> <span style="left:338.0px;letter-spacing:-0.55px">Aided</span> <span style="left:423.2px;letter-spacing:0.5px">By</span> <span style="left:468.3px;letter-spacing:-0.5px">Funds</span> <span style="left:556.8px;letter-spacing:0.58px">Exiting</span> <span style="left:665.8px;letter-spacing:-0.75px">Short</span> <span style="left:749.0px">Positions</span></div>
<div class="legend">Japanese Yen Spot - Last Price</div>
<div class="ax mo" style="left:13.58px">Jan</div><div class="ax mo" style="left:96.67px">Feb</div><div class="ax mo" style="left:177.66px">Mar</div><div class="ax mo" style="left:262.59px">Apr</div><div class="ax mo" style="left:349.51px">May</div><div class="ax mo" style="left:434.45px">Jun</div><div class="ax mo" style="left:521.36px">Jul</div><div class="ax mo" style="left:608.27px">Aug</div><div class="ax mo" style="left:693.21px">Sep</div>
<div class="ax yr">2025</div>
<div class="ax yl" style="top:66.40px">160</div><div class="ax yl" style="top:146.60px">155</div><div class="ax yl" style="top:226.80px">150</div><div class="ax yl" style="top:307.00px">145</div><div class="ax yl" style="top:387.20px">140</div>
<div class="ytitle">Yen per dollar</div>
<div class="src" style="left:3.4px;letter-spacing:0.6px">Source:</div><div class="src" style="left:63.2px;letter-spacing:0.2px">Bloomberg</div>
<div class="bb">Bloomberg</div>
</body></html>
